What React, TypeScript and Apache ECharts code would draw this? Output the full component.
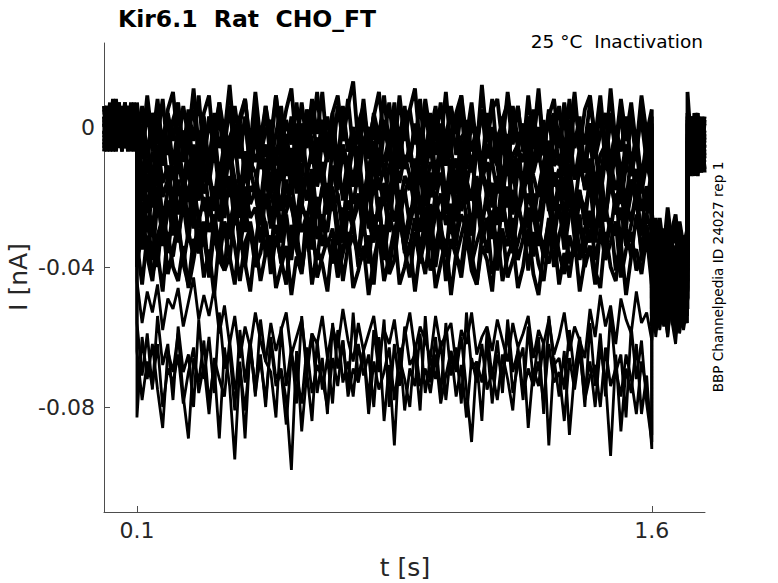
import React, { useEffect, useRef } from "react";
import * as echarts from "echarts";

// ---- texts & ticks ----
const titleText = "Kir6.1  Rat  CHO_FT";
const subtitleText = "25 °C  Inactivation";
const sideText = "BBP Channelpedia ID 24027 rep 1";
const xName = "t [s]";
const yName = "I [nA]";
const xTicks = [0.1, 1.6];
const yTicks = [-0.08, -0.04, 0];

// protocol segment boundaries (s)
const segTimes = [0.004, 0.1, 1.6, 1.704, 1.754];

// ---- sweep currents in pA ----
// holding before the step (0.004 .. 0.1 s)
const preSweeps: number[][] = [
  [3, -5, 6, -4, 7, -2, 5, -6, 4, -3, 6, -5],
  [-4, 5, -6, 3, -1, 7, -5, 2, -6, 5, -3, 4],
  [5, -2, 7, -6, 3, -5, 1, 6, -4, 3, -7, 2],
  [-6, 3, -1, 8, -4, 2, -5, 4, -2, 6, -4, 1],
  [1, -7, 4, -3, 6, -5, 3, -6, 5, -1, 4, -6],
  [-2, 6, -4, 5, -7, 2, -3, 7, -5, 1, -6, 3],
  [6, -3, 2, -7, 4, -1, 6, -4, 3, -6, 5, -2],
  [-5, 1, -6, 3, -2, 7, -4, 2, -7, 4, -1, 5],
  [3, -6, 5, -1, 7, -3, 1, -5, 6, -2, 4, -4],
  [-7, 2, -3, 6, -5, 4, -2, 5, -6, 3, -1, 6],
  [0, 6, -5, 2, -3, 5, -7, 3, 1, -5, 7, -3],
  [-1, -5, 3, -4, 8, -2, 4, -6, 2, -3, 5, -7],
  [6, -1, -4, 4, -6, 1, -3, 7, -2, 5, -5, 2],
  [-3, 4, -7, 1, 5, -4, 2, -5, 6, -1, 3, -6],
  [2, -2, 5, -6, 2, 6, -5, 1, -3, 7, -4, 4],
  [-5, 5, 0, -3, 4, -6, 3, -1, 5, -7, 2, -2],
  [4, -6, 3, 5, -2, 2, -7, 4, -3, 1, 6, -4],
  [-2, 3, -5, 7, -4, -1, 5, -6, 2, 4, -3, 0],
  [1, -5, 4, -2, 6, -6, 2, -3, 5, -4, 3, -1],
];

// conditioning step (0.1 .. 1.6 s)
const stepSweeps: number[][] = [
  [7, -6, 9, -4, 8, -7, 5, 10, -5, 6, -3, 11, -6, 4, 9, -7, 7, -2, 12, -5, 3, 8, -6, 10, -4, 6, -7, 9, -3, 5, 11, -6, 7, -5, 8, -2, 10, -7, 4, 9, -4, 6, 13, -5, 8, -6, 3, 10, -3, 7, -7, 9, -4, 5, 11, -6, 8, -2, 6, -5, 10, -7, 4, 9, -3, 7, -6, 12, -4, 5, 8, -5, 10, -2, 6, -7, 9, -4, 11, -6, 3, 8, -5, 7, -3, 10, -6, 5, 9, -4, 6, -7, 11, -5, 8, -3, 7, -6, 9, -2, 5],
  [-6, 6, -9, 4, -3, 8, -8, 2, 7, -7, 5, -4, 9, -9, 3, -2, 7, -6, 6, -8, 1, 8, -5, 4, -9, 6, -3, 9, -7, 2, -5, 7, -8, 5, -2, 10, -6, 3, -9, 6, -4, 8, -7, 1, 6, -9, 4, -3, 9, -6, 7, -8, 2, 5, -5, 8, -9, 3, -4, 7, -7, 6, -2, 9, -8, 4, -6, 5, -3, 8, -9, 2, 7, -5, 6, -7, 3, -4, 9, -8, 5, -2, 6, -9, 8, -6, 1, -5, 7, -3, 9, -7, 4, -8, 6, -4, 2, -9, 7, -5, 3],
  [2, -9, 5, -7, 3, -11, 4, -4, 6, -10, -1, 5, -8, 3, -12, 4, -6, 1, -9, 6, -5, 2, -11, 5, -3, 4, -10, -2, 6, -8, 3, -12, 1, -6, 5, -9, 2, -4, 4, -11, 6, -7, 0, -10, 5, -5, 3, -12, 2, -8, 4, -3, 6, -9, 1, -11, 5, -6, 3, -10, -2, 4, -8, 6, -12, 2, -5, 5, -9, 0, -11, 3, -7, 6, -4, 1, -10, 5, -8, 2, -12, 4, -6, 3, -9, 6, -3, -11, 1, -7, 5, -10, 2, -5, 4, -12, 3, -8, 6, -4, 0],
  [-12, 1, -9, 3, -13, -2, 2, -11, 0, -7, 3, -14, -1, -10, 2, -6, 4, -12, -3, 1, -9, 3, -13, 0, -8, -1, 2, -11, 4, -6, -14, 1, -10, 3, -4, -12, 2, -8, 0, -13, 3, -7, -2, -11, 4, -9, 1, -14, -1, -6, 2, -12, 3, -10, 0, -5, -13, 4, -8, 1, -11, -2, 3, -14, 2, -7, 0, -12, 4, -9, -3, 1, -13, 3, -6, -10, 2, -12, 0, -8, 4, -11, -1, -14, 2, -5, 3, -13, 1, -9, -2, 4, -12, 0, -7, 3, -11, -3, 2, -10, 1],
  [-2, -14, -4, -16, 0, -11, -3, -15, -6, -1, -13, -5, -17, -2, -9, 0, -15, -4, -12, -7, 1, -16, -3, -10, -5, -14, -1, -17, -6, -2, -12, -4, -15, 0, -9, -3, -16, -7, -1, -13, -5, -11, -2, -17, -4, 0, -14, -6, -10, -3, -15, -1, -12, -5, -16, -2, -8, 1, -14, -4, -11, -6, -17, -3, -1, -13, -5, -15, 0, -9, -4, -16, -2, -12, -6, -1, -14, -3, -10, -5, -17, 0, -11, -4, -15, -2, -7, -13, 1, -6, -16, -3, -9, -1, -14, -5, -12, -2, -15, -4, -10],
  [-16, -4, -18, -7, -13, -2, -17, -9, -5, -19, -3, -14, -8, -1, -16, -6, -18, -4, -11, -3, -19, -7, -15, -2, -12, -5, -17, -9, -3, -14, -6, -19, -1, -13, -8, -16, -4, -10, -2, -18, -7, -15, -5, -12, -3, -17, -9, -1, -14, -6, -19, -4, -11, -8, -16, -2, -13, -5, -18, -7, -3, -15, -9, -17, -4, -12, -1, -16, -6, -10, -19, -3, -14, -8, -5, -18, -2, -13, -7, -16, -4, -11, -9, -19, -1, -15, -6, -12, -3, -17, -8, -5, -14, -2, -18, -7, -10, -4, -16, -6, -13],
  [-7, -19, -9, -21, -5, -16, -11, -22, -6, -14, -20, -8, -17, -4, -13, -21, -10, -18, -6, -15, -22, -7, -12, -19, -5, -16, -9, -20, -11, -4, -18, -8, -21, -14, -6, -17, -10, -22, -5, -13, -19, -9, -15, -7, -20, -12, -4, -18, -11, -21, -6, -16, -8, -14, -22, -5, -19, -10, -13, -7, -20, -9, -17, -4, -15, -21, -6, -12, -18, -8, -11, -22, -5, -16, -9, -19, -7, -14, -20, -10, -4, -17, -12, -21, -6, -15, -8, -18, -13, -5, -20, -9, -16, -7, -22, -11, -14, -6, -19, -10, -17],
  [-22, -10, -24, -13, -8, -20, -15, -25, -9, -18, -12, -23, -7, -19, -14, -24, -11, -17, -8, -21, -16, -25, -10, -13, -22, -9, -19, -15, -24, -7, -18, -12, -23, -11, -20, -8, -16, -25, -14, -9, -21, -13, -17, -7, -24, -10, -19, -15, -22, -11, -8, -23, -14, -18, -9, -25, -12, -20, -16, -7, -22, -11, -24, -13, -17, -8, -21, -15, -10, -23, -14, -19, -9, -25, -12, -16, -7, -22, -18, -10, -24, -13, -20, -8, -15, -23, -11, -17, -9, -21, -14, -25, -10, -18, -12, -22, -8, -19, -16, -24, -11],
  [-13, -26, -15, -23, -11, -27, -18, -12, -25, -16, -28, -14, -21, -10, -24, -17, -27, -12, -20, -15, -26, -11, -22, -18, -28, -13, -19, -25, -10, -23, -16, -27, -14, -21, -12, -26, -17, -24, -11, -20, -28, -15, -22, -13, -25, -18, -10, -27, -16, -23, -12, -26, -19, -14, -24, -11, -28, -17, -21, -13, -25, -15, -27, -10, -22, -18, -26, -12, -20, -16, -28, -14, -23, -11, -25, -19, -13, -27, -17, -21, -10, -24, -15, -26, -12, -22, -18, -28, -14, -20, -11, -25, -16, -23, -13, -27, -19, -12, -24, -17, -21],
  [-28, -16, -30, -19, -14, -27, -21, -31, -15, -25, -18, -29, -13, -24, -20, -31, -16, -26, -14, -28, -22, -30, -17, -19, -27, -13, -25, -21, -31, -15, -23, -29, -18, -14, -26, -20, -30, -16, -24, -19, -31, -13, -27, -22, -17, -29, -15, -25, -20, -30, -14, -26, -18, -28, -16, -23, -31, -13, -21, -27, -19, -29, -15, -24, -17, -30, -14, -26, -22, -28, -16, -20, -31, -18, -25, -13, -29, -21, -27, -15, -23, -30, -17, -26, -14, -28, -19, -24, -16, -31, -20, -27, -13, -25, -18, -29, -15, -22, -30, -17, -26],
  [-19, -32, -21, -29, -17, -34, -24, -18, -31, -22, -33, -16, -27, -20, -30, -25, -34, -18, -28, -21, -32, -17, -26, -23, -33, -19, -29, -16, -31, -24, -20, -34, -22, -27, -18, -32, -25, -30, -17, -28, -33, -21, -26, -19, -31, -16, -29, -23, -34, -20, -27, -18, -32, -24, -21, -30, -17, -33, -25, -19, -28, -22, -34, -16, -26, -31, -20, -29, -18, -32, -23, -27, -17, -33, -21, -30, -19, -25, -34, -22, -16, -28, -24, -31, -18, -32, -20, -26, -33, -17, -29, -23, -30, -19, -34, -21, -27, -18, -31, -25, -20],
  [-23, -35, -26, -38, -21, -31, -36, -24, -33, -20, -30, -37, -25, -34, -22, -29, -38, -27, -32, -19, -35, -24, -31, -36, -22, -28, -37, -20, -33, -26, -38, -23, -30, -25, -35, -21, -34, -28, -19, -32, -36, -24, -29, -37, -22, -27, -33, -20, -38, -25, -31, -23, -35, -28, -21, -36, -26, -30, -19, -34, -37, -22, -32, -25, -29, -38, -20, -33, -27, -24, -35, -21, -31, -36, -23, -28, -34, -19, -30, -37, -26, -32, -22, -35, -25, -20, -38, -29, -24, -33, -21, -36, -27, -31, -23, -34, -28, -19, -37, -25, -30],
  [-38, -25, -35, -28, -40, -24, -33, -37, -27, -39, -30, -23, -36, -32, -41, -26, -34, -29, -38, -24, -31, -40, -27, -35, -22, -37, -33, -28, -39, -25, -36, -30, -41, -24, -32, -38, -26, -34, -29, -40, -23, -35, -31, -37, -27, -39, -25, -33, -28, -41, -30, -24, -36, -34, -26, -38, -32, -22, -40, -29, -35, -27, -37, -31, -25, -39, -33, -28, -36, -24, -41, -30, -34, -26, -38, -32, -23, -37, -29, -35, -27, -40, -31, -25, -39, -33, -28, -36, -24, -38, -30, -34, -26, -41, -32, -29, -37, -25, -35, -31, -39],
  [-40, -29, -37, -44, -31, -26, -42, -35, -28, -39, -45, -32, -36, -27, -43, -30, -38, -41, -25, -34, -44, -33, -29, -40, -36, -27, -42, -31, -38, -45, -28, -35, -41, -30, -26, -43, -37, -32, -39, -29, -44, -34, -27, -40, -36, -31, -45, -28, -33, -42, -38, -26, -35, -43, -30, -39, -29, -41, -34, -27, -44, -32, -37, -40, -28, -36, -45, -31, -26, -42, -35, -29, -43, -38, -33, -27, -41, -30, -39, -44, -32, -28, -36, -42, -31, -37, -25, -40, -34, -45, -29, -38, -33, -27, -43, -35, -30, -41, -37, -28, -36],
  [-33, -45, -31, -42, -36, -47, -30, -40, -44, -34, -46, -38, -29, -43, -35, -48, -32, -41, -37, -45, -30, -39, -47, -33, -44, -36, -31, -46, -40, -34, -48, -37, -42, -29, -45, -35, -39, -47, -32, -43, -36, -30, -46, -41, -34, -48, -38, -31, -44, -37, -29, -45, -40, -33, -47, -35, -42, -30, -46, -39, -32, -48, -36, -43, -31, -41, -45, -34, -38, -47, -30, -44, -37, -33, -46, -40, -29, -42, -48, -35, -39, -31, -45, -36, -43, -32, -47, -38, -34, -41, -46, -30, -40, -44, -33, -48, -37, -35, -42, -31, -45],
  [-44, -56, -47, -53, -45, -58, -49, -52, -46, -57, -50, -43, -55, -48, -54, -46, -59, -51, -62, -54, -66, -57, -63, -53, -61, -67, -56, -64, -58, -53, -65, -60, -55, -68, -59, -62, -54, -66, -57, -63, -52, -61, -67, -56, -64, -59, -54, -65, -58, -62, -55, -67, -60, -53, -64, -57, -61, -66, -54, -63, -59, -56, -68, -58, -62, -53, -65, -60, -57, -64, -55, -61, -67, -56, -63, -59, -54, -66, -58, -62, -55, -65, -60, -53, -64, -57, -61, -66, -52, -60, -48, -57, -51, -62, -49, -55, -59, -47, -56, -53, -61],
  [-83, -60, -72, -62, -75, -86, -64, -70, -59, -77, -89, -66, -73, -61, -79, -68, -89, -63, -74, -95, -67, -89, -62, -76, -65, -80, -60, -72, -69, -78, -98, -64, -87, -70, -84, -61, -75, -66, -79, -58, -73, -67, -77, -62, -71, -65, -80, -60, -84, -68, -91, -63, -81, -69, -74, -59, -76, -66, -72, -61, -78, -64, -70, -60, -75, -90, -67, -73, -62, -79, -65, -71, -58, -76, -68, -63, -86, -69, -74, -61, -91, -66, -77, -64, -88, -70, -60, -75, -67, -80, -63, -72, -94, -65, -87, -69, -76, -62, -82, -71, -92],
  [-56, -71, -59, -75, -54, -68, -62, -78, -57, -70, -65, -80, -55, -72, -60, -76, -53, -69, -64, -81, -58, -73, -61, -77, -55, -67, -70, -83, -57, -74, -63, -79, -54, -71, -59, -76, -66, -82, -56, -69, -61, -75, -53, -72, -64, -78, -58, -70, -55, -80, -62, -74, -57, -68, -65, -81, -54, -73, -60, -77, -56, -71, -63, -79, -53, -69, -67, -84, -58, -72, -61, -76, -55, -70, -64, -78, -57, -73, -60, -82, -54, -68, -66, -75, -58, -71, -62, -80, -56, -74, -59, -77, -53, -70, -65, -83, -57, -72, -61, -79, -90],
  [-64, -78, -67, -74, -62, -80, -69, -73, -65, -79, -70, -63, -76, -68, -82, -66, -72, -77, -61, -75, -69, -81, -64, -73, -67, -78, -62, -74, -70, -85, -65, -71, -79, -63, -76, -68, -72, -80, -66, -74, -61, -77, -69, -73, -64, -82, -67, -75, -70, -63, -78, -66, -72, -80, -62, -74, -69, -76, -65, -79, -71, -64, -77, -68, -83, -66, -73, -62, -75, -70, -78, -65, -72, -81, -63, -76, -69, -74, -67, -79, -62, -73, -70, -84, -66, -75, -64, -78, -71, -68, -80, -63, -74, -69, -77, -65, -72, -82, -67, -75, -88],
];

// test pulse (1.6 .. 1.704 s)
const postSweeps: number[][] = [
  [-24, -37, -26, -35, -23, -33, -38, -27, -34, -29],
  [-39, -26, -36, -29, -40, -30, -25, -37, -31, -35],
  [-27, -41, -30, -38, -26, -36, -42, -29, -37, -32],
  [-43, -29, -39, -32, -44, -33, -28, -40, -35, -38],
  [-30, -44, -33, -41, -29, -39, -45, -31, -42, -35],
  [-46, -32, -43, -35, -47, -34, -30, -44, -37, -41],
  [-33, -47, -36, -44, -31, -42, -48, -35, -45, -38],
  [-49, -35, -46, -38, -50, -37, -34, -47, -40, -44],
  [-36, -50, -39, -47, -35, -45, -51, -38, -48, -41],
  [-52, -38, -49, -41, -53, -40, -37, -50, -43, -47],
  [-39, -53, -42, -50, -38, -48, -54, -41, -51, -44],
  [-54, -40, -51, -43, -56, -42, -39, -52, -45, -49],
  [-41, -55, -44, -52, -40, -50, -57, -43, -53, -46],
  [-57, -43, -54, -46, -58, -45, -42, -55, -48, -52],
  [-44, -58, -47, -55, -43, -53, -59, -46, -56, -49],
  [-59, -45, -56, -48, -60, -47, -44, -57, -50, -54],
  [-46, -60, -49, -57, -45, -55, -62, -48, -58, -51],
  [-61, -47, -58, -50, -60, -49, -46, -59, -52, -56],
  [-35, -48, -38, -45, -33, -43, -50, -37, -46, -40],
];

// back to holding (1.704 .. 1.754 s)
const tailSweeps: number[][] = [
  [10, -4, 3, -9, 1, -6],
  [-10, 2, -12, -3, 0, -8],
  [-2, -12, 1, -7, -13, 2],
  [-11, -3, -14, 3, -8, -1],
  [4, -9, -1, -13, -4, 3],
  [-7, 3, -11, -2, -10, -5],
  [-13, -4, 2, -10, -2, -12],
  [1, -10, -5, 4, -12, -3],
  [-4, -14, 0, -8, 2, -9],
  [-9, 3, -7, -12, -3, 1],
  [2, -8, -13, -1, -9, -4],
  [-8, -1, -5, -11, 3, -13],
  [-3, -11, 4, -6, -13, -2],
  [-12, -5, -9, 1, -6, -10],
  [3, -7, -3, -14, -1, -7],
  [-6, -13, 2, -4, -10, 0],
  [-14, 1, -10, -2, -7, -12],
  [-1, -9, -6, 4, -11, -3],
  [-5, -11, 1, -8, -2, -12],
];

const FONT = "DejaVu Sans";

function segment(vals: number[], t0: number, t1: number): number[][] {
  const n = vals.length;
  return vals.map((v, i) => [t0 + ((t1 - t0) * i) / (n - 1), v / 1000]);
}

function buildSeries() {
  return stepSweeps.map((step, k) => {
    const data = [
      ...segment(preSweeps[k], segTimes[0], segTimes[1]),
      ...segment(step, segTimes[1], segTimes[2]),
      ...segment(postSweeps[k], segTimes[2], segTimes[3]),
      ...segment(tailSweeps[k], segTimes[3], segTimes[4]),
    ];
    return {
      type: "line",
      data,
      showSymbol: false,
      symbol: "none",
      silent: true,
      animation: false,
      lineStyle: { color: "#000000", width: k < 15 ? 3.8 : 2.8, join: "bevel" },
    };
  });
}

export default function App() {
  const ref = useRef<HTMLDivElement>(null);
  useEffect(() => {
    if (!ref.current) return;
    const chart = echarts.init(ref.current, undefined, { renderer: "svg" });
    const axisColor = "#4d4d4d";
    const labelColor = "#262626";
    chart.setOption({
      animation: false,
      backgroundColor: "#ffffff",
      grid: { left: 104, top: 43, width: 601, height: 469, containLabel: false },
      xAxis: {
        type: "value",
        min: 0.004,
        max: 1.755,
        axisLine: { show: true, onZero: false, lineStyle: { color: axisColor, width: 1 } },
        axisTick: { show: true, inside: true, length: 6, customValues: xTicks, lineStyle: { color: axisColor } },
        axisLabel: {
          customValues: xTicks,
          fontSize: 22,
          fontFamily: FONT,
          color: labelColor,
          margin: 7,
          formatter: (v: number) => String(v),
        },
        splitLine: { show: false },
      },
      yAxis: {
        type: "value",
        min: -0.11,
        max: 0.024,
        axisLine: { show: true, onZero: false, lineStyle: { color: axisColor, width: 1 } },
        axisTick: { show: true, inside: true, length: 6, customValues: yTicks, lineStyle: { color: axisColor } },
        axisLabel: {
          customValues: yTicks,
          fontSize: 22,
          fontFamily: FONT,
          color: labelColor,
          margin: 9,
          formatter: (v: number) => String(v),
        },
        splitLine: { show: false },
      },
      graphic: [
        {
          type: "text",
          x: 118,
          y: 19,
          style: { text: titleText, font: `bold 23.5px "${FONT}"`, fill: "#000", textAlign: "left", textVerticalAlign: "middle", align: "left", verticalAlign: "middle" },
        },
        {
          type: "text",
          x: 703,
          y: 41,
          style: { text: subtitleText, font: `18.5px "${FONT}"`, fill: "#000", textAlign: "right", textVerticalAlign: "middle", align: "right", verticalAlign: "middle" },
        },
        {
          type: "text",
          x: 718,
          y: 277,
          rotation: Math.PI / 2,
          style: { text: sideText, font: `13.6px "${FONT}"`, fill: "#000", textAlign: "center", textVerticalAlign: "middle", align: "center", verticalAlign: "middle" },
        },
        {
          type: "text",
          x: 405,
          y: 567,
          style: { text: xName, font: `25px "${FONT}"`, fill: labelColor, textAlign: "center", textVerticalAlign: "middle", align: "center", verticalAlign: "middle" },
        },
        {
          type: "text",
          x: 18,
          y: 277,
          rotation: Math.PI / 2,
          style: { text: yName, font: `25px "${FONT}"`, fill: labelColor, textAlign: "center", textVerticalAlign: "middle", align: "center", verticalAlign: "middle" },
        },
      ],
      series: buildSeries(),
    });
    return () => chart.dispose();
  }, []);
  return <div ref={ref} style={{ position: "absolute", left: 0, top: 0, width: 778, height: 583 }} />;
}
